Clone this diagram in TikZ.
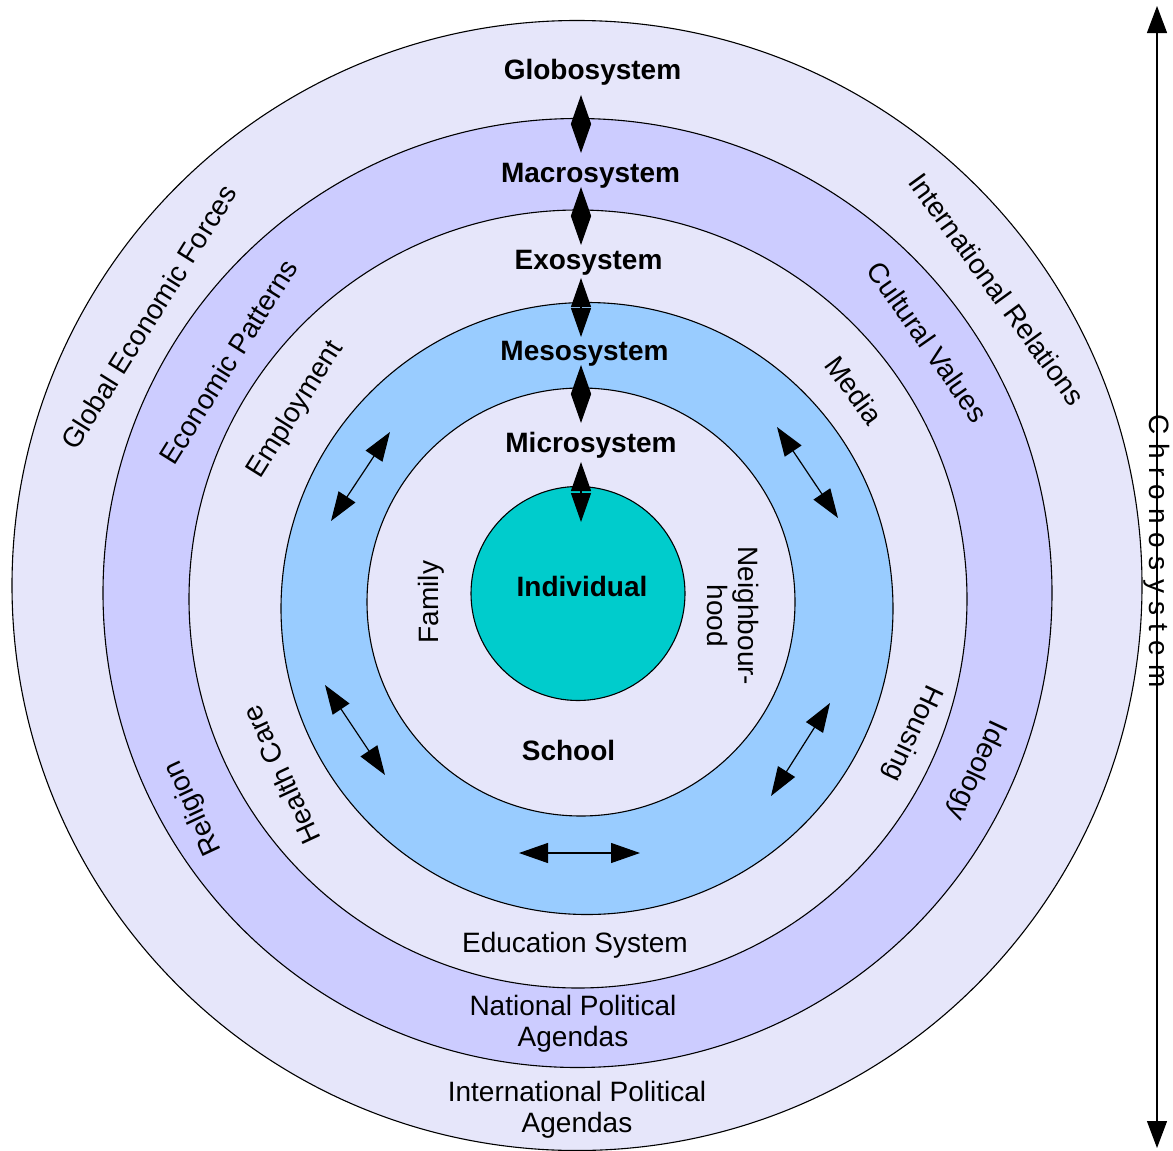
\documentclass[tikz,border=0pt]{standalone}
\usepackage{fontspec}
\setmainfont{Liberation Sans}
\usetikzlibrary{arrows.meta}
\definecolor{lav}{HTML}{E6E6FA}
\definecolor{peri}{HTML}{CCCCFF}
\definecolor{sky}{HTML}{99CCFF}
\definecolor{core}{HTML}{00CCCC}

\begin{document}
\begin{tikzpicture}[x=1pt,y=-1pt,
  ring/.style={circle, draw=black, line width=1.1pt, inner sep=0pt, outer sep=0pt},
  lbl/.style={font=\fontsize{28}{31}\selectfont, inner sep=0pt, align=center},
  sys/.style={font=\fontsize{28}{31}\selectfont\bfseries, inner sep=0pt, anchor=base},
  link/.style={line width=1.2pt,
    {Triangle[length=29pt,width=20pt]}-{Triangle[length=29pt,width=20pt]}},
  timeline/.style={line width=1.2pt,
    {Triangle[length=27pt,width=20pt]}-{Triangle[length=27pt,width=20pt]}},
]
\useasboundingbox (0,0) rectangle (1173,1151);
\fill[white] (0,0) rectangle (1173,1151);

% nested system circles, outermost first
\node[ring, fill=lav,  minimum size=1130pt] (globo) at (577,585.5) {};
\node[ring, fill=peri, minimum size=949pt]  (macro) at (577.5,593) {};
\node[ring, fill=lav,  minimum size=778pt]  (exo)   at (578,599) {};
\node[ring, fill=sky,  minimum size=612pt]  (meso)  at (587,608.5) {};
\node[ring, fill=lav,  minimum size=428pt]  (micro) at (581,602) {};
\node[ring, fill=core, minimum size=214pt]  (indiv) at (578,593.5) {};

% system names
\node[sys] (tGlobo) at (592.5,79)  {Globosystem};
\node[sys] (tMacro) at (590.5,182) {Macrosystem};
\node[sys] (tExo)   at (588.5,269) {Exosystem};
\node[sys] (tMeso)  at (584.5,360) {Mesosystem};
\node[sys] (tMicro) at (591,452)   {Microsystem};
\node[sys] (tIndiv) at (582,596)   {Individual};
\node[sys] (tSchool) at (568.5,760) {School};

% links between neighbouring systems
\coordinate (g1) at (581,95);  \coordinate (g2) at (581,153);
\coordinate (m1) at (581,187); \coordinate (m2) at (581,245);
\coordinate (e1) at (581,278); \coordinate (e2) at (581,337);
\coordinate (s1) at (581,365); \coordinate (s2) at (581,423);
\coordinate (c1) at (581,462); \coordinate (c2) at (581,522);
\draw[link] (g1) -- (g2);
\draw[link] (m1) -- (m2);
\draw[link] (e1) -- (e2);
\draw[link] (s1) -- (s2);
\draw[link] (c1) -- (c2);

% interactions within the mesosystem
\coordinate (ul1) at (390,432); \coordinate (ul2) at (331,521);
\coordinate (ur1) at (777,427); \coordinate (ur2) at (838,518);
\coordinate (ll1) at (325,685); \coordinate (ll2) at (385,775);
\coordinate (lr1) at (830,703); \coordinate (lr2) at (771,796);
\coordinate (bt1) at (519,853); \coordinate (bt2) at (640,853);
\draw[link] (ul1) -- (ul2);
\draw[link] (ur1) -- (ur2);
\draw[link] (ll1) -- (ll2);
\draw[link] (lr1) -- (lr2);
\draw[link] (bt1) -- (bt2);

% microsystem settings
\node[lbl, rotate=90]  (family) at (431,602) {Family};
\node[lbl, rotate=-90] (hood)   at (733,616) {Neighbour-\\hood};

% exosystem settings
\node[lbl, rotate=58]   (employ)  at (296,410) {Employment};
\node[lbl, rotate=-54]  (media)   at (854,390) {Media};
\node[lbl, rotate=115]  (health)  at (281,775) {Health Care};
\node[lbl, rotate=-115] (housing) at (912,733) {Housing};
\node[lbl] (edu) at (575,952) [anchor=base] {Education System};

% macrosystem settings
\node[lbl, rotate=58]   (econ)     at (228,362) {Economic Patterns};
\node[lbl, rotate=-55]  (culture)  at (928,342) {Cultural Values};
\node[lbl, rotate=115]  (religion) at (194,808) {Religion};
\node[lbl, rotate=-115] (ideology) at (976,770) {Ideology};
\node[lbl] (natpol) at (573,1024) {National Political\\Agendas};

% globosystem settings
\node[lbl, rotate=58]  (global) at (149,317) {Global Economic Forces};
\node[lbl, rotate=-54] (intrel) at (997,289) {International Relations};
\node[lbl] (intpol) at (577,1110) {International Political\\Agendas};

% time axis
\coordinate (t1) at (1157,6);
\coordinate (t2) at (1157,1148);
\draw[timeline] (t1) -- (t2);
\node[lbl, rotate=-90] (chrono) at (1157,551)
  {\addfontfeature{LetterSpace=30}Chronosystem};
\end{tikzpicture}
\end{document}
